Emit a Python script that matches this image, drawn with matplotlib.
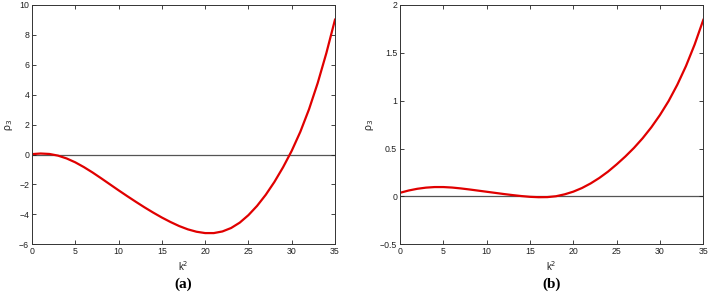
import numpy as np
import matplotlib.pyplot as plt

# k^2 sample points (shared by both panels)
k2 = np.arange(0, 36)

# panel (a) rho_3 values
rho3_a = [0.03, 0.07, 0.04, -0.07, -0.26, -0.52, -0.84, -1.20, -1.59, -1.99,
          -2.39, -2.78, -3.16, -3.53, -3.88, -4.21, -4.51, -4.78, -5.00, -5.16,
          -5.25, -5.25, -5.14, -4.91, -4.55, -4.05, -3.43, -2.69, -1.83, -0.85,
          0.25, 1.53, 3.03, 4.78, 6.78, 9.02]

# panel (b) rho_3 values
rho3_b = [0.038, 0.062, 0.080, 0.092, 0.098, 0.098, 0.093, 0.084, 0.073, 0.061,
          0.049, 0.037, 0.025, 0.014, 0.004, -0.004, -0.008, -0.007, 0.002, 0.022,
          0.050, 0.088, 0.136, 0.193, 0.259, 0.335, 0.417, 0.507, 0.608, 0.722,
          0.851, 0.997, 1.167, 1.362, 1.587, 1.845]

xticks = [0, 5, 10, 15, 20, 25, 30, 35]
yticks_a = [-6, -4, -2, 0, 2, 4, 6, 8, 10]
yticks_b = [-0.5, 0, 0.5, 1, 1.5, 2]
ylabels_b = ["\u22120.5", "0", "0.5", "1", "1.5", "2"]
panel_tags = ["(a)", "(b)"]

plt.rcParams['font.family'] = ['Liberation Sans', 'DejaVu Sans']

fig = plt.figure(figsize=(7.09, 2.95), dpi=100)
W, H = 709, 295
ax_a = fig.add_axes([32 / W, 1 - 244.3 / H, 303 / W, 239.3 / H])
ax_b = fig.add_axes([400 / W, 1 - 244.3 / H, 303.3 / W, 239.3 / H])


def style(ax, y, yticks, ylim, tag, ylabels=None):
    ax.axhline(0, color='#555555', lw=0.9, zorder=1)
    ax.plot(k2, y, color='#e00000', lw=1.6, zorder=2)
    ax.set_xlim(0, 35)
    ax.set_ylim(*ylim)
    ax.set_xticks(xticks)
    ax.set_yticks(yticks)
    if ylabels is not None:
        ax.set_yticklabels(ylabels)
    ax.tick_params(direction='in', length=3, width=0.6, labelsize=6.3,
                   top=True, right=True, colors='#222222', pad=2)
    for s in ax.spines.values():
        s.set_linewidth(0.7)
        s.set_color('#333333')
    ax.set_xlabel(r'k$^2$', fontsize=7, labelpad=2, color='#222222')
    ax.set_ylabel('\u03c1$_3$', fontsize=7.5, labelpad=3, color='#222222')
    ax.text(0.5, -0.14, tag, transform=ax.transAxes, ha='center', va='top',
            fontsize=11, fontweight='bold', family='Liberation Serif')


style(ax_a, rho3_a, yticks_a, (-6, 10), panel_tags[0])
style(ax_b, rho3_b, yticks_b, (-0.5, 2), panel_tags[1], ylabels_b)

fig.savefig('out.png', dpi=100)
